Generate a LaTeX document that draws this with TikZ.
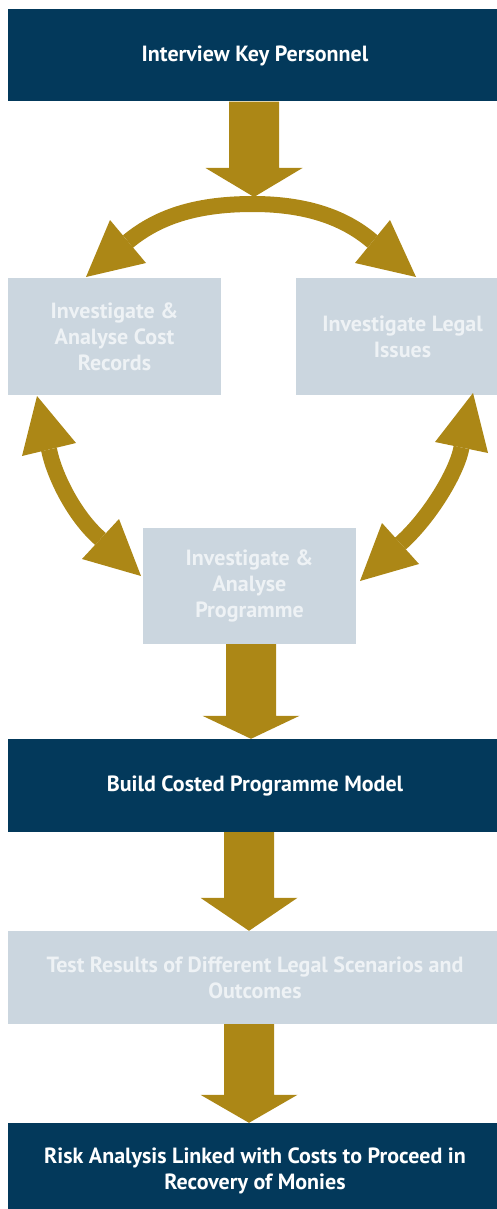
\documentclass[tikz,border=0pt]{standalone}
\usepackage{fontspec}
\setmainfont{PT Sans}
\usetikzlibrary{calc}
\definecolor{navy}{HTML}{03395B}
\definecolor{gold}{HTML}{AC8716}
\definecolor{pale}{HTML}{CBD6DF}
\definecolor{paletext}{HTML}{EEF2F5}
% straight thick down arrow: #1 from, #2 to (tip), #3 x centre (pt), #4 head length (pt)
\newcommand\bigdownarrow[4]{%
  \fill[gold] let \p1=(#1), \p2=(#2) in
    (#3pt-25pt,\y1) -- (#3pt+25pt,\y1) -- (#3pt+25pt,\y2+#4pt) -- (#3pt+48.5pt,\y2+#4pt)
    -- (#3pt,\y2) -- (#3pt-48.5pt,\y2+#4pt) -- (#3pt-25pt,\y2+#4pt) -- cycle;}
\begin{document}
\begin{tikzpicture}[x=1pt,y=-1pt,
  boxtext/.style={font=\bfseries\fontsize{22}{26}\selectfont, align=center, inner sep=0pt},
  darkbox/.style={boxtext, fill=navy, text=white},
  lightbox/.style={boxtext, fill=pale, text=paletext},
  fullw/.style={minimum width=494pt},
  halfw/.style={minimum width=213pt},
  shaft/.style={draw=gold, line width=16pt},
  head/.style={fill=gold}]
\useasboundingbox (0,0) rectangle (497,1209);
\clip (0,0) rectangle (497,1209);

% boxes
\node[darkbox, fullw, minimum height=92pt] (top) at (255,55.5) {Interview Key Personnel};
\node[lightbox, halfw, minimum height=117pt] (left) at (114.5,336.5) {Investigate \&\\Analyse Cost\\Records};
\node[lightbox, halfw, minimum height=117pt] (right) at (402.5,336.5) {Investigate Legal\\Issues};
\node[lightbox, halfw, minimum height=116pt] (mid) at (249.5,586) {Investigate \&\\Analyse\\Programme};
\node[darkbox, fullw, minimum height=93pt] (build) at (255,785.5) {Build Costed Programme Model};
\node[lightbox, fullw, minimum height=93pt] (test) at (255,977.5) {Test Results of Different Legal Scenarios and\\Outcomes};
\node[darkbox, fullw, minimum height=95pt] (risk) at (255,1170.5) {Risk Analysis Linked with Costs to Proceed in\\Recovery of Monies};

% straight arrows
\coordinate (junc) at (254,197);
\bigdownarrow{top.south}{junc}{254}{29}
\bigdownarrow{mid.south}{build.north}{251}{23}
\bigdownarrow{build.south}{test.north}{249}{33}
\bigdownarrow{test.south}{risk.north}{249}{28}

% top split arrow
\coordinate (sL) at (128,241.5);
\coordinate (sR) at (372.5,241.5);
\draw[shaft] (sL) .. controls (160,215) and (200,204) .. (253,204)
                  .. controls (303,204) and (343,216) .. (sR);
\fill[head] (86,277) -- (110,220) -- (146,263) -- cycle;
\fill[head] (416,277) -- (390,220) -- (355,263) -- cycle;

% left double arrow (cost records <-> programme)
\coordinate (lA) at (49,449.5);
\coordinate (lB) at (100.5,539);
\draw[shaft] (lA) .. controls (54,475) and (74,516) .. (lB);
\fill[head] (37,396) -- (22,456) -- (76,443) -- cycle;
\fill[head] (141,576) -- (119,519) -- (82,559) -- cycle;

% right double arrow (legal issues <-> programme)
\coordinate (rA) at (461.5,447.5);
\coordinate (rB) at (400.5,543.5);
\draw[shaft] (rA) .. controls (457,472) and (430,517) .. (rB);
\fill[head] (473,393) -- (435,442) -- (488,453) -- cycle;
\fill[head] (360,581) -- (382,523) -- (419,564) -- cycle;
\end{tikzpicture}
\end{document}
